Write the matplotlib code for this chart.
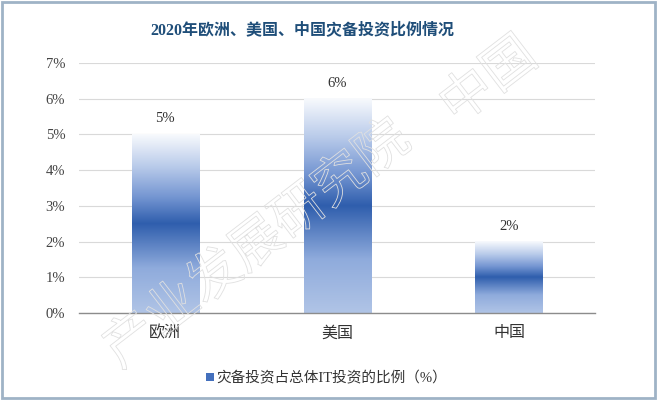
import matplotlib.pyplot as plt
import matplotlib.patheffects as pe
import numpy as np
from matplotlib.colors import LinearSegmentedColormap
from matplotlib.patches import Patch, Rectangle

regions = ["欧洲", "美国", "中国"]
shares = [0.05, 0.06, 0.02]
value_labels = ["5%", "6%", "2%"]
y_ticks = [0, 0.01, 0.02, 0.03, 0.04, 0.05, 0.06, 0.07]
y_tick_labels = ["0%", "1%", "2%", "3%", "4%", "5%", "6%", "7%"]
title = "2020年欧洲、美国、中国灾备投资比例情况"
series_name = "灾备投资占总体IT投资的比例（%）"

FONTS = ["Liberation Serif", "Noto Sans CJK SC", "DejaVu Sans"]
plt.rcParams["font.family"] = FONTS

# vertical gradient, bottom -> top
bar_cmap = LinearSegmentedColormap.from_list(
    "bar_grad",
    [
        (0.0, "#b0c4e6"),
        (0.25, "#8fabdc"),
        (0.5, "#2f5ead"),
        (0.65, "#7596d2"),
        (0.82, "#b9cbea"),
        (1.0, "#f8fafd"),
    ],
)

fig = plt.figure(figsize=(6.6, 4.0), dpi=100)
ax = fig.add_axes([0.12, 0.2175, 0.7815, 0.625])

x = np.arange(len(regions))
width = 0.39
grad = np.linspace(0, 1, 256).reshape(-1, 1)
for xi, val, lab in zip(x, shares, value_labels):
    ax.imshow(grad, cmap=bar_cmap, origin="lower", aspect="auto",
              extent=[xi - width / 2, xi + width / 2, 0, val], zorder=2)
    ax.text(xi, val + 0.0025, lab, ha="center", va="bottom", fontsize=10.5, color="#333333")

ax.set_xlim(-0.5, len(regions) - 0.5)
ax.set_ylim(0, 0.07)
ax.set_yticks(y_ticks)
ax.set_yticklabels(y_tick_labels, fontsize=10.5, color="#444444")
ax.set_xticks(x)
ax.set_xticklabels(regions, fontsize=11.5, color="#333333")
ax.tick_params(axis="both", length=0, pad=10)
ax.tick_params(axis="x", pad=9)
ax.grid(axis="y", color="#d9d9d9", linewidth=0.8, zorder=0)
for side in ["top", "right", "left"]:
    ax.spines[side].set_visible(False)
ax.spines["bottom"].set_color("#8c8c8c")
ax.spines["bottom"].set_linewidth(1.0)

fig.text(0.458, 0.925, title, ha="center", va="center", fontsize=11.5,
         fontweight="bold", color="#1f4e79")

handle = Patch(facecolor="#4470bd", edgecolor="none")
fig.legend([handle], [series_name], loc="center", bbox_to_anchor=(0.495, 0.055),
           frameon=False, fontsize=10.5, handlelength=0.55, handleheight=0.45,
           handletextpad=0.2, labelcolor="#333333")

# faint watermark
wm = dict(rotation=37.5, rotation_mode="anchor", va="center", fontsize=38,
          color=(1, 1, 1, 0), family=["Noto Sans CJK SC"], zorder=10,
          path_effects=[pe.Stroke(linewidth=0.6, foreground="#e0e0e0")])
fig.text(0.611, 0.67, "产业发展研究院", ha="right", **wm)
fig.text(0.677, 0.718, "中国", ha="left", **wm)

# outer frame
fig.patches.append(Rectangle((0.003, 0.004), 0.99, 0.992, transform=fig.transFigure,
                             fill=False, edgecolor="#9fb3c6", linewidth=2.0))

fig.savefig("out.png", dpi=100)
